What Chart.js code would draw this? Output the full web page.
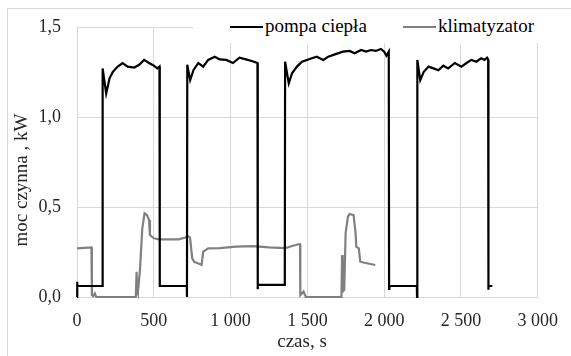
<!DOCTYPE html>
<html>
<head>
<meta charset="utf-8">
<script src="https://cdn.jsdelivr.net/npm/chart.js@4"></script>
<style>
  body { margin: 0; background: #fff; overflow: hidden; }
  #wrap { position: relative; width: 571px; height: 356px; overflow: hidden; }
  #frame { position: absolute; left: 7px; top: 8px; width: 600px; height: 400px; border: 1px solid #d9d9d9; }
  #chart { position: absolute; left: 0; top: 0; }
  #legend { position: absolute; left: 193px; top: 12px; width: 355px; height: 31px; background: #fff;
            font-family: "Liberation Serif", serif; font-size: 19px; color: #000; }
  .item { position: absolute; top: 3px; white-space: nowrap; }
  .swatch { display: inline-block; width: 33px; height: 2px; vertical-align: middle; margin-right: 2px; position: relative; top: -1px; }
</style>
</head>
<body>
<div id="wrap">
  <div id="frame"></div>
  <canvas id="chart" width="571" height="356"></canvas>
  <div id="legend">
    <div class="item" style="left:37px"><span class="swatch" style="background:#000"></span>pompa ciepła</div>
    <div class="item" style="left:210px"><span class="swatch" style="background:#808080"></span>klimatyzator</div>
  </div>
</div>
<script>
// dane
const pumpT = [0, 0, 3, 164, 167, 190, 212, 233, 265, 297, 330, 373, 405, 437, 469, 501, 522, 537, 539,
  715, 716, 718, 737, 758, 790, 822, 854, 897, 929, 972, 1015, 1058, 1100, 1143, 1175, 1176, 1178,
  1353, 1355, 1379, 1400, 1432, 1465, 1497, 1529, 1561, 1604, 1636, 1679, 1732, 1775, 1807, 1850, 1882, 1914, 1946, 1979, 2000, 2015, 2030, 2032, 2034,
  2213, 2214, 2216, 2235, 2257, 2289, 2321, 2353, 2385, 2417, 2460, 2503, 2536, 2568, 2600, 2632, 2653, 2670, 2677, 2678, 2680, 2704];
const pumpP = [0, 0.085, 0.061, 0.061, 1.27, 1.13, 1.215, 1.25, 1.28, 1.30, 1.28, 1.275, 1.29, 1.317, 1.30, 1.285, 1.27, 1.28, 0.061,
  0.061, 0, 1.29, 1.205, 1.26, 1.30, 1.28, 1.317, 1.335, 1.32, 1.317, 1.30, 1.33, 1.32, 1.31, 1.30, 0.043, 0.067,
  0.067, 1.307, 1.187, 1.243, 1.28, 1.307, 1.317, 1.326, 1.335, 1.317, 1.335, 1.348, 1.363, 1.367, 1.354, 1.372, 1.363, 1.372, 1.367, 1.378, 1.363, 1.34, 1.363, 0.045, 0.061,
  0.061, 0, 1.317, 1.205, 1.25, 1.28, 1.27, 1.26, 1.285, 1.27, 1.30, 1.28, 1.30, 1.317, 1.307, 1.326, 1.317, 1.33, 1.32, 0.04, 0.061, 0.061];

const klimT = [0, 94, 97, 105, 116, 125, 200, 300, 383, 388, 392, 396, 410, 425, 440, 456, 469, 475, 501, 533, 597, 662, 705, 722, 736,
  750, 764, 779, 811, 822, 854, 929, 1036, 1143, 1250, 1357, 1400, 1443, 1452, 1454, 1475, 1490, 1600, 1722, 1726, 1730, 1740,
  1749, 1764, 1775, 1801, 1814, 1818, 1835, 1844, 1871, 1942];
const klimP = [0.27, 0.276, 0.01, 0.005, 0.02, 0.0, 0.0, 0.0, 0.0, 0.14, 0.03, 0.02, 0.15, 0.38, 0.465, 0.455, 0.428, 0.344, 0.326, 0.32, 0.32, 0.32, 0.33, 0.339, 0.33,
  0.215, 0.194, 0.19, 0.178, 0.252, 0.27, 0.272, 0.28, 0.283, 0.276, 0.272, 0.283, 0.293, 0.293, 0.01, 0.03, 0.0, 0.0, 0.0, 0.233, 0.03, 0.04,
  0.354, 0.446, 0.461, 0.455, 0.354, 0.28, 0.27, 0.196, 0.19, 0.178];

const xTicks = [0, 500, 1000, 1500, 2000, 2500, 3000];
const xTickLabels = ["0", "500", "1 000", "1 500", "2 000", "2 500", "3 000"];
const yTicks = [0, 0.5, 1.0, 1.5];
const yTickLabels = ["0,0", "0,5", "1,0", "1,5"];

const xTitle = "czas, s";
const yTitle = "moc czynna , kW";

const FONT = "'Liberation Serif', 'Times New Roman', serif";

// tytuly osi rysowane recznie
const axisTitles = {
  id: "axisTitles",
  afterDraw(chart) {
    const ctx = chart.ctx;
    ctx.save();
    ctx.fillStyle = "#262626";
    ctx.font = "19px " + FONT;
    ctx.textAlign = "center";
    ctx.textBaseline = "middle";
    ctx.fillText(xTitle, 302, 342);
    ctx.translate(22, 180);
    ctx.rotate(-Math.PI / 2);
    ctx.fillText(yTitle, 0, 0);
    ctx.restore();
  }
};

new Chart(document.getElementById("chart"), {
  type: "line",
  data: {
    datasets: [
      {
        label: "pompa ciepła",
        data: pumpT.map((t, i) => ({ x: t, y: pumpP[i] })),
        borderColor: "#000",
        borderWidth: 2.2,
        pointRadius: 0,
        tension: 0,
        clip: false
      },
      {
        label: "klimatyzator",
        data: klimT.map((t, i) => ({ x: t, y: klimP[i] })),
        borderColor: "#808080",
        borderWidth: 2.2,
        pointRadius: 0,
        tension: 0,
        clip: false
      }
    ]
  },
  options: {
    responsive: false,
    animation: false,
    layout: { padding: { top: 27, right: 27, left: 0, bottom: 0 } },
    plugins: { legend: { display: false }, tooltip: { enabled: false } },
    scales: {
      x: {
        type: "linear",
        min: 0,
        max: 3000,
        afterBuildTicks: (s) => { s.ticks = xTicks.map(v => ({ value: v })); },
        afterFit: (s) => { s.height = 59; },
        grid: { color: "#d9d9d9", lineWidth: 1, drawTicks: false },
        border: { color: "#d9d9d9" },
        ticks: {
          padding: 13,
          color: "#262626",
          font: { family: FONT, size: 18 },
          maxRotation: 0,
          callback: (v) => xTickLabels[xTicks.indexOf(v)]
        }
      },
      y: {
        min: 0,
        max: 1.5,
        afterBuildTicks: (s) => { s.ticks = yTicks.map(v => ({ value: v })); },
        afterFit: (s) => { s.width = 77; },
        grid: { color: "#d9d9d9", lineWidth: 1, drawTicks: false },
        border: { color: "#d9d9d9" },
        ticks: {
          padding: 16,
          color: "#262626",
          font: { family: FONT, size: 18 },
          callback: (v) => yTickLabels[yTicks.indexOf(v)]
        }
      }
    }
  },
  plugins: [axisTitles]
});
</script>
</body>
</html>
